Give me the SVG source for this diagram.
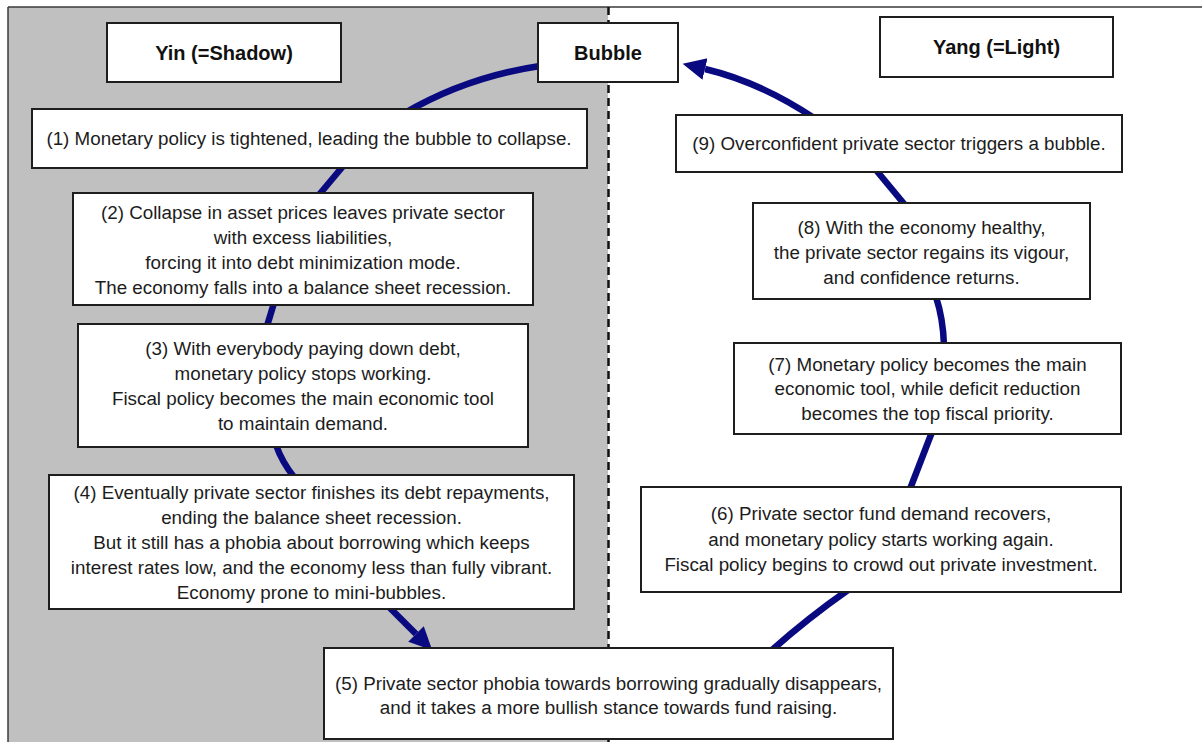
<svg xmlns="http://www.w3.org/2000/svg" width="1202" height="742" viewBox="0 0 1202 742">
<style>
  .box { fill: #ffffff; stroke: #1e1e1e; stroke-width: 2; }
  .t { font-family: "Liberation Sans", Arial, sans-serif; font-size: 18.8px; fill: #1c1c1c; text-anchor: middle; }
  .h { font-family: "Liberation Sans", Arial, sans-serif; font-size: 20px; font-weight: bold; fill: #111111; text-anchor: middle; }
  .con { fill: none; stroke: #0a0a80; stroke-width: 6.5; }
</style>
<defs>
  <marker id="head" markerUnits="userSpaceOnUse" markerWidth="24" markerHeight="24" refX="0" refY="11" orient="auto" viewBox="0 0 24 24">
    <path d="M0,0 L23,11 L0,22 z" fill="#0a0a80"/>
  </marker>
</defs>
<rect x="0" y="0" width="1202" height="742" fill="#ffffff"/>
<g id="background">
  <rect x="8" y="7" width="600" height="735" fill="#c0c0c0"/>
  <line x1="8" y1="7" x2="1202" y2="7" stroke="#3a3a3a" stroke-width="1.5"/>
  <line x1="8" y1="7" x2="8" y2="742" stroke="#3a3a3a" stroke-width="1.5"/>
  <line x1="608.5" y1="7" x2="608.5" y2="742" stroke="#111111" stroke-width="2.5" stroke-dasharray="8,5"/>
</g>
<g id="connectors">
  <path class="con" d="M 540 66 Q 466 77 403 114"/>
  <path class="con" d="M 344 165 L 318 196"/>
  <path class="con" d="M 274 303 L 267 326"/>
  <path class="con" d="M 276 445 Q 282 462 294 477"/>
  <path class="con" d="M 388 606 L 416 634" marker-end="url(#head)"/>
  <path class="con" d="M 772 650 Q 808 618 848 590"/>
  <path class="con" d="M 910 489 L 932 432"/>
  <path class="con" d="M 944 345 Q 943 318 936 297"/>
  <path class="con" d="M 905 205 L 876 170"/>
  <path class="con" d="M 814 118 Q 760 82 705 69" marker-end="url(#head)"/>
</g>
<g id="yin">
  <rect class="box" x="107" y="23" width="234" height="59"/>
  <text class="h" x="224" y="59.5">Yin (=Shadow)</text>
</g>
<g id="bubble">
  <rect class="box" x="538" y="23" width="140" height="59"/>
  <text class="h" x="608" y="59.5">Bubble</text>
</g>
<g id="yang">
  <rect class="box" x="880" y="17" width="233" height="60"/>
  <text class="h" x="996.5" y="54">Yang (=Light)</text>
</g>
<g id="step1">
  <rect class="box" x="32" y="109" width="555" height="59"/>
  <text class="t" x="309" y="145">(1) Monetary policy is tightened, leading the bubble to collapse.</text>
</g>
<g id="step2">
  <rect class="box" x="73" y="193" width="460" height="112"/>
  <text class="t" x="303" y="219">(2) Collapse in asset prices leaves private sector</text>
  <text class="t" x="303" y="244">with excess liabilities,</text>
  <text class="t" x="303" y="269">forcing it into debt minimization mode.</text>
  <text class="t" x="303" y="294">The economy falls into a balance sheet recession.</text>
</g>
<g id="step3">
  <rect class="box" x="78" y="324" width="450" height="123"/>
  <text class="t" x="303" y="355">(3) With everybody paying down debt,</text>
  <text class="t" x="303" y="380">monetary policy stops working.</text>
  <text class="t" x="303" y="405">Fiscal policy becomes the main economic tool</text>
  <text class="t" x="303" y="430">to maintain demand.</text>
</g>
<g id="step4">
  <rect class="box" x="49" y="475" width="525" height="134"/>
  <text class="t" x="311.5" y="499">(4) Eventually private sector finishes its debt repayments,</text>
  <text class="t" x="311.5" y="524">ending the balance sheet recession.</text>
  <text class="t" x="311.5" y="549">But it still has a phobia about borrowing which keeps</text>
  <text class="t" x="311.5" y="574">interest rates low, and the economy less than fully vibrant.</text>
  <text class="t" x="311.5" y="599">Economy prone to mini-bubbles.</text>
</g>
<g id="step5">
  <rect class="box" x="324" y="648" width="569" height="91"/>
  <text class="t" x="608.5" y="690">(5) Private sector phobia towards borrowing gradually disappears,</text>
  <text class="t" x="608.5" y="714">and it takes a more bullish stance towards fund raising.</text>
</g>
<g id="step6">
  <rect class="box" x="641" y="487" width="480" height="105"/>
  <text class="t" x="881" y="520">(6) Private sector fund demand recovers,</text>
  <text class="t" x="881" y="546">and monetary policy starts working again.</text>
  <text class="t" x="881" y="571">Fiscal policy begins to crowd out private investment.</text>
</g>
<g id="step7">
  <rect class="box" x="734" y="343" width="387" height="91"/>
  <text class="t" x="927.5" y="370.5">(7) Monetary policy becomes the main</text>
  <text class="t" x="927.5" y="395">economic tool, while deficit reduction</text>
  <text class="t" x="927.5" y="420">becomes the top fiscal priority.</text>
</g>
<g id="step8">
  <rect class="box" x="753" y="203" width="337" height="96"/>
  <text class="t" x="921.5" y="234">(8) With the economy healthy,</text>
  <text class="t" x="921.5" y="259">the private sector regains its vigour,</text>
  <text class="t" x="921.5" y="284">and confidence returns.</text>
</g>
<g id="step9">
  <rect class="box" x="676" y="115" width="446" height="57"/>
  <text class="t" x="899" y="150">(9) Overconfident private sector triggers a bubble.</text>
</g>
</svg>
